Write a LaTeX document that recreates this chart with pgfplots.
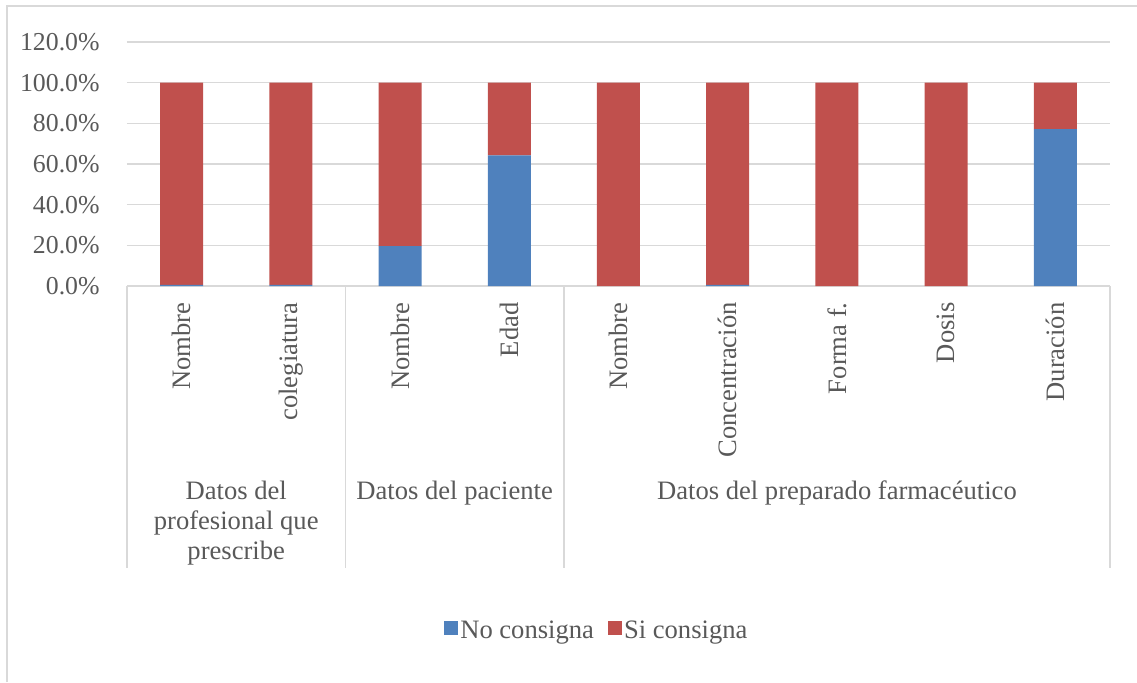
\documentclass[border=0pt]{standalone}
\usepackage{fontspec}
\setmainfont{Liberation Serif}
\usepackage{pgfplots}
\pgfplotsset{compat=1.18}
\definecolor{cblue}{HTML}{4F81BD}
\definecolor{cred}{HTML}{C0504D}
\definecolor{gridgray}{HTML}{D9D9D9}
\definecolor{textgray}{HTML}{595959}
\pgfplotsset{sqlegend/.style={legend image code/.code={\fill[##1] (0pt,-2pt) rectangle (7pt,5pt);}}}
\begin{document}
\begin{tikzpicture}[font=\fontsize{13.3}{15}\selectfont]
\path[use as bounding box] (0,0) rectangle (568.5pt,341pt);
\draw[gridgray, line width=0.75pt] (3.5pt,0) -- (3.5pt,338pt) -- (568.5pt,338pt);
\begin{axis}[
  at={(63.5pt,198pt)}, anchor=south west,
  scale only axis, width=491.5pt, height=122pt,
  ybar stacked, bar width=21.5pt,
  xmin=-0.5, xmax=8.5, ymin=0, ymax=120,
  enlargelimits=false, clip=false,
  xtick={0,...,8},
  xticklabels={Nombre, colegiatura, Nombre, Edad, Nombre, Concentración, Forma f., Dosis, Duración},
  ytick={0,20,...,120},
  yticklabel={\pgfmathprintnumber[fixed,fixed zerofill,precision=1]{\tick}\%},
  /pgf/number format/assume math mode=true,
  xticklabel style={rotate=90, anchor=east, inner sep=0pt, text=textgray},
  yticklabel style={anchor=east, inner sep=0pt, text=textgray, font=\fontsize{12.9}{15}\selectfont},
  xticklabel shift=8pt, yticklabel shift=13.5pt,
  major tick length=0pt,
  axis line style={draw=none},
  ymajorgrids, major grid style={draw=gridgray, line width=0.75pt},
  legend style={draw=none, fill=none, at={(0.478,-1.414)}, anchor=center,
    legend columns=2, text=textgray, inner sep=0pt,
    /tikz/every even column/.append style={column sep=5.5pt},
    nodes={inner sep=1.25pt}},
  legend cell align=left,
]
\addplot[fill=cblue, draw=none, sqlegend] coordinates {(0,0.5) (1,0.5) (2,19.6) (3,64.2) (4,0) (5,0.5) (6,0) (7,0) (8,77.2)};
\addplot[fill=cred, draw=none, sqlegend] coordinates {(0,99.5) (1,99.5) (2,80.4) (3,35.8) (4,100) (5,99.5) (6,100) (7,100) (8,22.8)};
\legend{No consigna, Si consigna}
\draw[gridgray, line width=0.75pt] (axis cs:-0.5,0) -- (axis cs:8.5,0);
\draw[gridgray, line width=0.75pt] (axis cs:-0.5,0) -- (axis cs:-0.5,-138.9);
\draw[gridgray, line width=0.75pt] (axis cs:1.5,0) -- (axis cs:1.5,-138.9);
\draw[gridgray, line width=0.75pt] (axis cs:3.5,0) -- (axis cs:3.5,-138.9);
\draw[gridgray, line width=0.75pt] (axis cs:8.5,0) -- (axis cs:8.5,-138.9);
\node[anchor=north, align=center, inner sep=0pt, text=textgray] at (axis cs:0.5,-95.6) {Datos del\\profesional que\\prescribe};
\node[anchor=north, align=center, inner sep=0pt, text=textgray] at (axis cs:2.5,-95.6) {Datos del paciente};
\node[anchor=north, align=center, inner sep=0pt, text=textgray] at (axis cs:6,-95.6) {Datos del preparado farmacéutico};
\end{axis}
\end{tikzpicture}
\end{document}
